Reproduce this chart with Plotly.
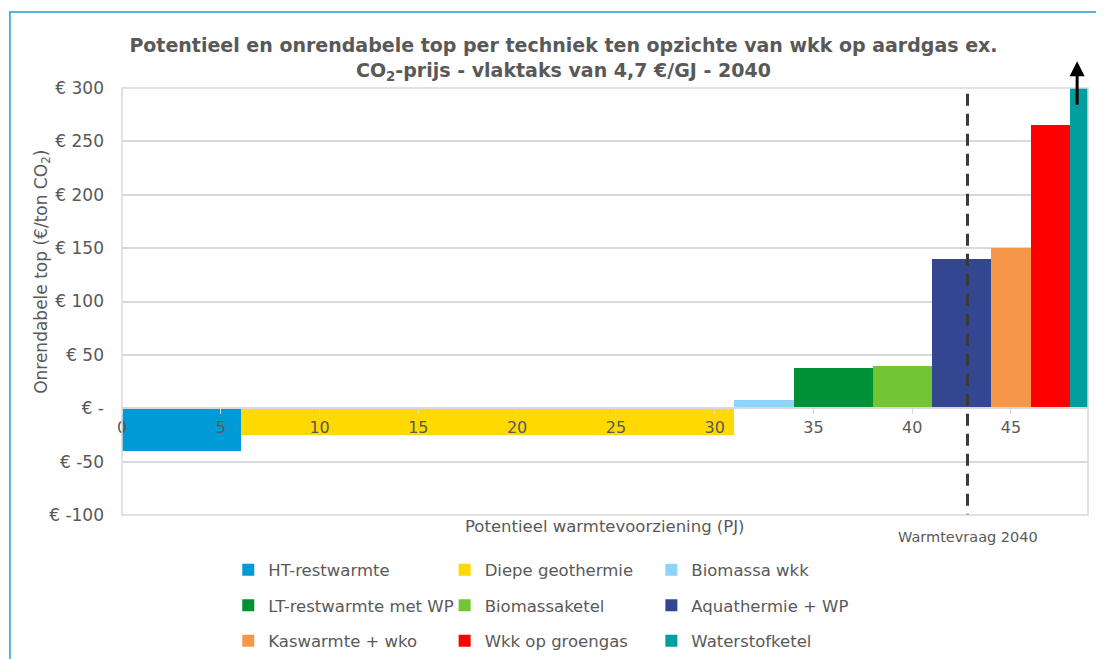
import plotly.graph_objects as go

# techniques, in order along the x axis (PJ)
techniques = [
    "HT-restwarmte", "Diepe geothermie", "Biomassa wkk",
    "LT-restwarmte met WP", "Biomassaketel", "Aquathermie + WP",
    "Kaswarmte + wko", "Wkk op groengas", "Waterstofketel",
]
start_pj = [0, 6, 31, 34, 38, 41, 44, 46, 48]
potential_pj = [6, 25, 3, 4, 3, 3, 2, 2, 1]
top_eur = [-40, -25, 8, 38, 40, 140, 150, 265, 300]
colors = [
    "#009AD6", "#FFD900", "#8ED3FB", "#009036", "#72C633",
    "#344691", "#F6974A", "#FF0000", "#009E9E",
]
legend_col = ["legend", "legend2", "legend3"] * 3

y_ticks = [300, 250, 200, 150, 100, 50, 0, -50, -100]
y_ticktext = ["€ 300", "€ 250", "€ 200", "€ 150", "€ 100", "€ 50", "€ -", "€ -50", "€ -100"]
warmtevraag_2040 = 42.8

FONT = "DejaVu Sans"
GREY = "#595959"

fig = go.Figure()
for i, name in enumerate(techniques):
    fig.add_trace(go.Bar(
        x=[start_pj[i] + potential_pj[i] / 2],
        y=[top_eur[i]],
        width=[potential_pj[i]],
        name=name,
        marker=dict(color=colors[i], line=dict(width=0)),
        legend=legend_col[i],
        legendgroup=name,
    ))

fig.add_shape(type="line", x0=warmtevraag_2040, x1=warmtevraag_2040, y0=-110, y1=300,
              xref="x", yref="y", line=dict(color="#3A3A3A", width=3, dash="12px,8px"))
fig.add_shape(type="rect", x0=0, x1=1, y0=0, y1=1, xref="paper", yref="paper",
              line=dict(color="#D9D9D9", width=1.5))
fig.add_shape(type="rect", x0=-0.116, x1=1.1, y0=-0.5, y1=1.178, xref="paper", yref="paper",
              line=dict(color="#1E9BD7", width=1.5))

fig.add_annotation(x=48.35, y=325, ax=48.35, ay=283, xref="x", yref="y", axref="x", ayref="y",
                   text="", showarrow=True, arrowhead=2, arrowsize=1, arrowwidth=3, arrowcolor="black")
fig.add_annotation(x=0.5, y=-0.028, xref="paper", yref="paper", yanchor="middle",
                   text="Potentieel warmtevoorziening (PJ)",
                   showarrow=False, font=dict(family=FONT, size=16.5, color=GREY))
fig.add_annotation(x=warmtevraag_2040, y=-0.052, xref="x", yref="paper", yanchor="middle",
                   text="Warmtevraag 2040",
                   showarrow=False, font=dict(family=FONT, size=14.5, color=GREY))
fig.add_annotation(x=-0.083, y=0.569, xref="paper", yref="paper", xanchor="center", yanchor="middle",
                   text="Onrendabele top (€/ton CO<sub>2</sub>)", textangle=-90,
                   showarrow=False, font=dict(family=FONT, size=17, color=GREY))

legend_base = dict(orientation="v", y=-0.088, yanchor="top", tracegroupgap=11,
                   font=dict(family=FONT, size=16.5, color=GREY), bgcolor="rgba(0,0,0,0)")
fig.update_layout(
    width=1096, height=651,
    margin=dict(l=114, r=16, t=80, b=144, autoexpand=False),
    paper_bgcolor="white", plot_bgcolor="white",
    bargap=0,
    title=dict(
        text="<b>Potentieel en onrendabele top per techniek ten opzichte van wkk op aardgas ex.<br>"
             "CO<sub>2</sub>-prijs - vlaktaks van 4,7 €/GJ - 2040</b>",
        x=0.457, xref="paper", xanchor="center", y=0.9317, yanchor="middle",
        font=dict(family=FONT, size=19, color=GREY),
    ),
    xaxis=dict(
        range=[0, 48.9], dtick=5, anchor="free", position=0.25,
        showline=True, linecolor="#D9D9D9", linewidth=1.5,
        ticks="outside", ticklen=5, tickcolor="#D9D9D9",
        showgrid=False, zeroline=False, layer="above traces",
        tickfont=dict(family=FONT, size=16, color=GREY),
    ),
    yaxis=dict(
        range=[-100, 300], tickvals=y_ticks, ticktext=y_ticktext,
        showgrid=True, gridcolor="#D9D9D9", gridwidth=1.5, zeroline=False,
        ticks="", ticklabelstandoff=17,
        tickfont=dict(family=FONT, size=17, color=GREY),
    ),
    legend=dict(x=0.11, **legend_base),
    legend2=dict(x=0.334, **legend_base),
    legend3=dict(x=0.548, **legend_base),
)

fig.write_html("out.html")
